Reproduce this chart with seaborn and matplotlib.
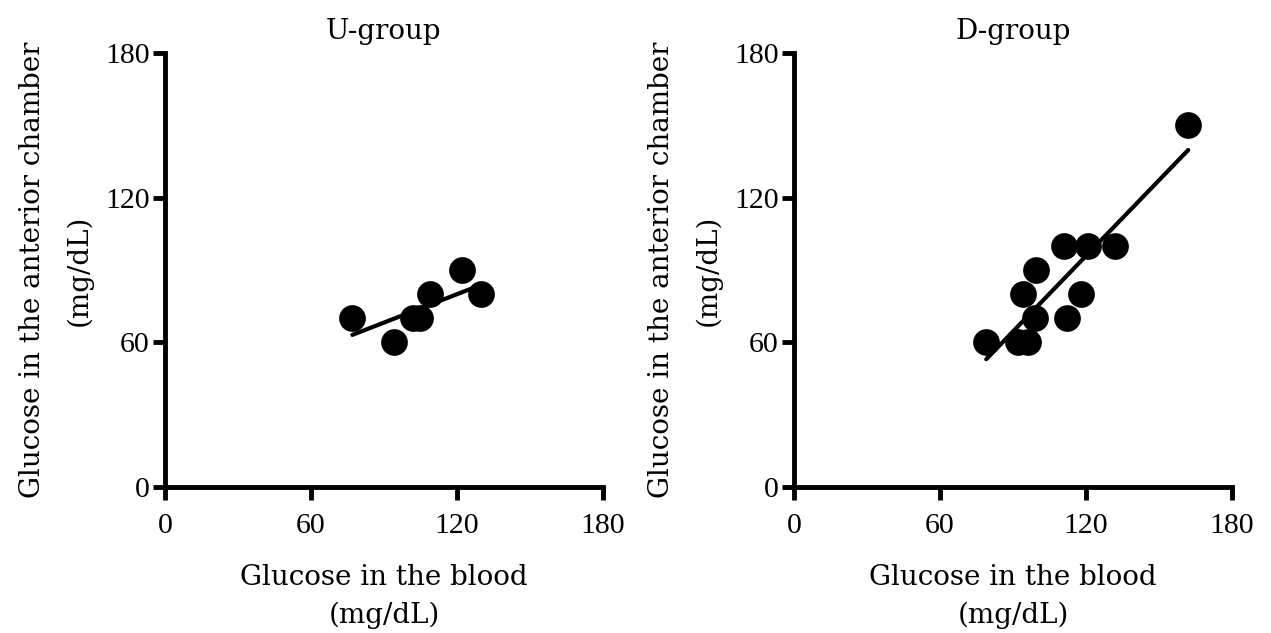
import matplotlib
matplotlib.use("Agg")
import matplotlib.pyplot as plt
import seaborn as sns
import pandas as pd

# U-group: blood vs anterior chamber glucose (mg/dL)
u_blood = [77, 94, 102, 105, 109, 122, 130]
u_chamber = [70, 60, 70, 70, 80, 90, 80]

# D-group
d_blood = [79, 92, 96, 99, 112, 94, 118, 99.5, 111, 121, 132, 162]
d_chamber = [60, 60, 60, 70, 70, 80, 80, 90, 100, 100, 100, 150]

titles = ["U-group", "D-group"]
ticks = [0, 60, 120, 180]

sns.set_theme(style="ticks")
plt.rcParams['font.family'] = ['DejaVu Serif']
for k in ["text.color", "axes.labelcolor", "xtick.color", "ytick.color", "axes.edgecolor"]:
    plt.rcParams[k] = "black"

fig = plt.figure(figsize=(12.71, 6.33), dpi=100)
ax1 = fig.add_axes([0.1298, 0.2307, 0.3446, 0.6856])
ax2 = fig.add_axes([0.6247, 0.2307, 0.3446, 0.6856])

groups = [(u_blood, u_chamber), (d_blood, d_chamber)]
for ax, (xb, yc), title in zip([ax1, ax2], groups, titles):
    df = pd.DataFrame({"blood": xb, "chamber": yc})
    sns.regplot(data=df, x="blood", y="chamber", ax=ax, ci=None, color="black",
                scatter_kws={"s": 370, "alpha": 1, "linewidths": 0},
                line_kws={"linewidth": 3})
    ax.set_xlim(0, 180)
    ax.set_ylim(0, 180)
    ax.set_xticks(ticks)
    ax.set_yticks(ticks)
    ax.tick_params(width=3.5, length=9, color="black")
    ax.tick_params(axis="x", pad=10)
    ax.tick_params(axis="y", pad=2)
    for lab in ax.get_xticklabels() + ax.get_yticklabels():
        lab.set_family("Liberation Serif")
        lab.set_fontsize(21.5)
    for s in ["left", "bottom"]:
        ax.spines[s].set_linewidth(3.5)
    sns.despine(ax=ax)
    ax.set_title(title, fontsize=20, pad=10)
    ax.set_xlabel("Glucose in the blood\n(mg/dL)", fontsize=20, labelpad=18, linespacing=1.5)
    ax.set_ylabel("Glucose in the anterior chamber\n(mg/dL)", fontsize=20, labelpad=9, linespacing=1.9)

fig.savefig("out.png", dpi=100)
